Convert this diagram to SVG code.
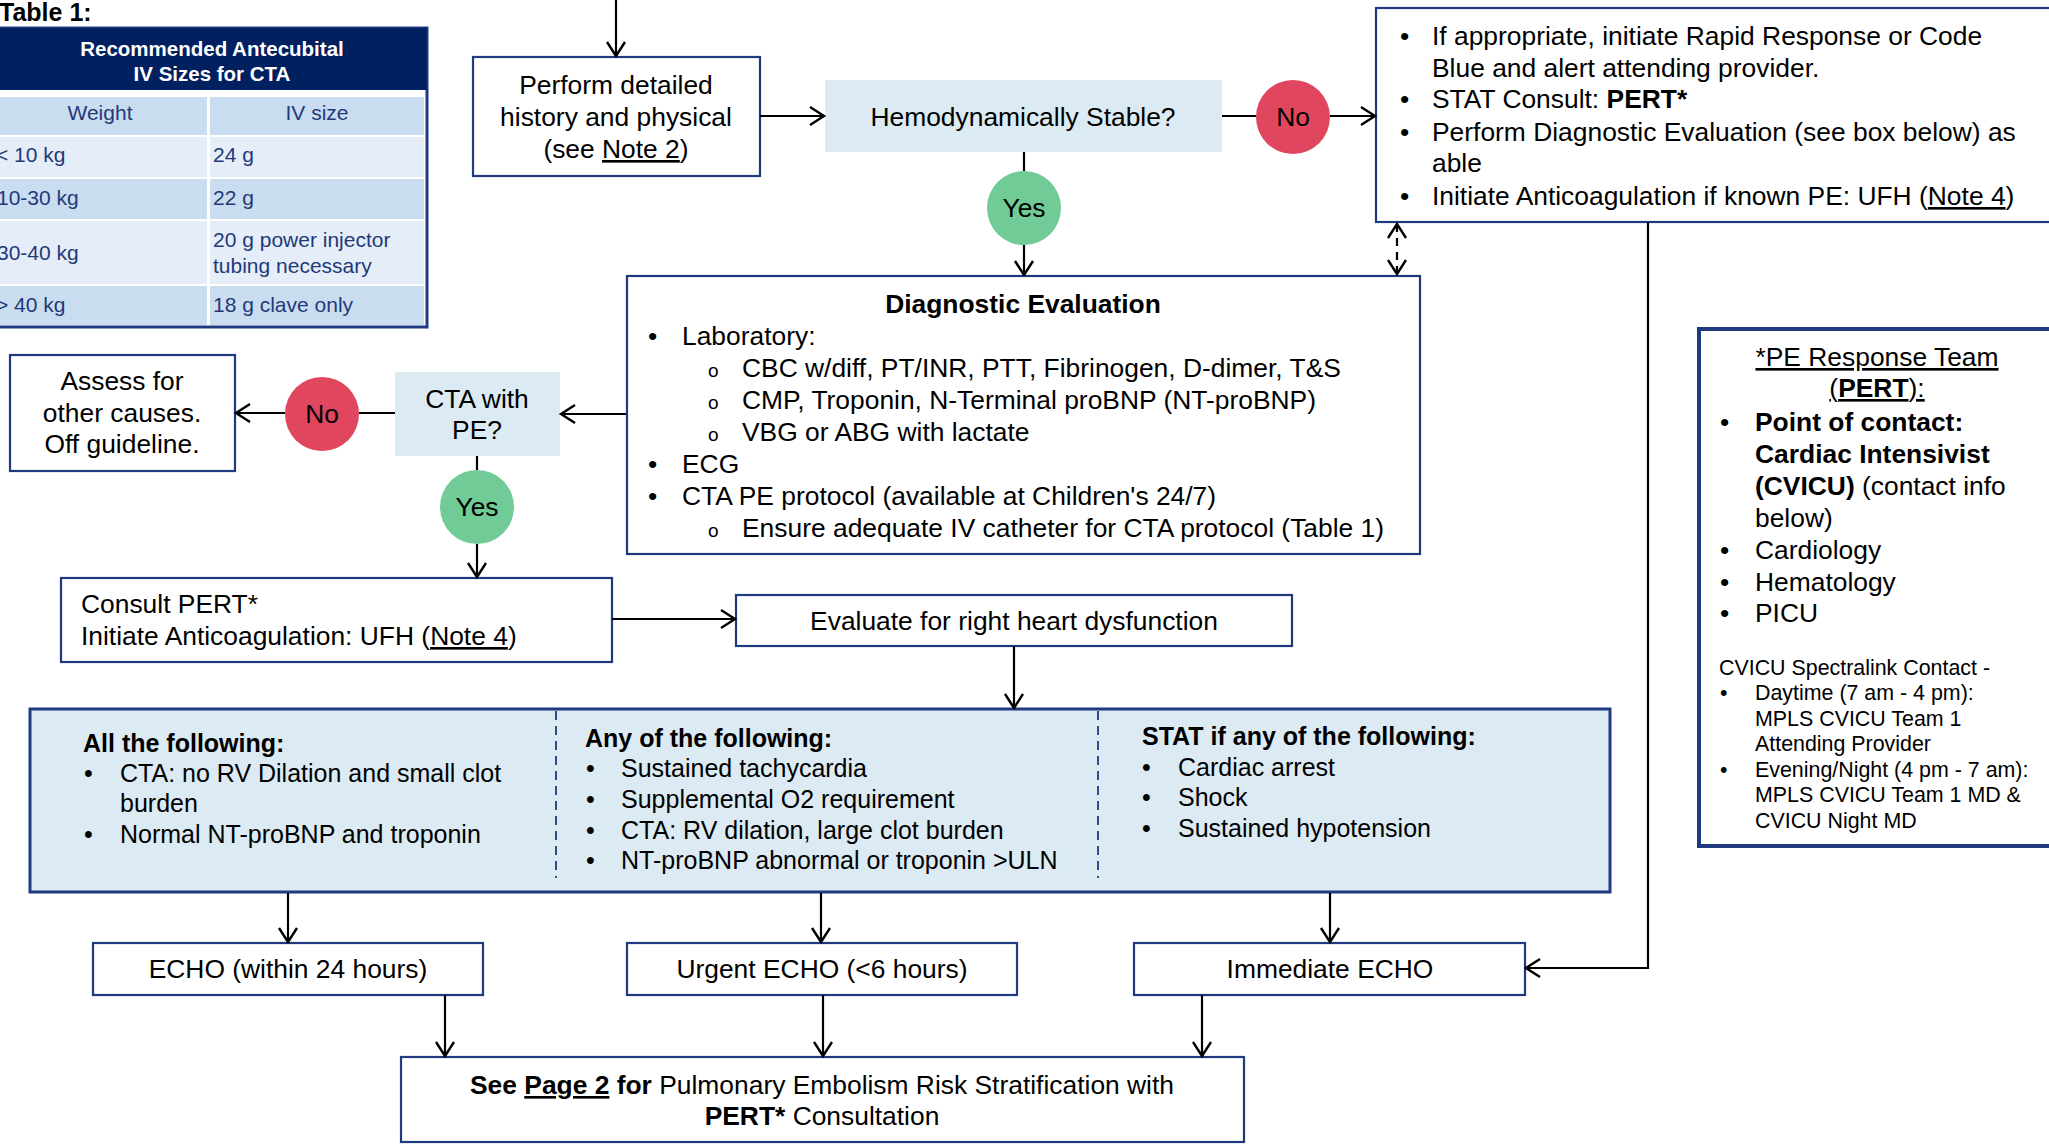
<svg xmlns="http://www.w3.org/2000/svg" width="2049" height="1144" viewBox="0 0 2049 1144">
<style>
text{font-family:"Liberation Sans",Arial,sans-serif;fill:#000}
.t{font-size:26.4px}
.tb{font-size:25px}
.sm{font-size:21.4px}
.b{font-weight:bold}
.c{text-anchor:middle}
.u{text-decoration:underline}
.box{fill:#fff;stroke:#1f3a80;stroke-width:2.2}
.q{fill:#dbeaf3;stroke:none}
.tc{font-size:21px;fill:#1f3a78}
.conn{fill:none;stroke:#000;stroke-width:2.2}
.sub{font-size:19px}
</style>
<defs>
<marker id="ah" markerUnits="userSpaceOnUse" markerWidth="20" markerHeight="22" refX="15" refY="10" orient="auto-start-reverse" viewBox="0 0 20 22">
<path d="M1,1 L15,10 L1,19" fill="none" stroke="#000" stroke-width="2.4"/>
</marker>
</defs>
<rect width="2049" height="1144" fill="#fff"/>

<g id="table1">
<text x="-1" y="21" class="b" style="font-size:25px">Table 1:</text>
<rect x="-5" y="28" width="432" height="299" fill="#fff" stroke="#1f3a80" stroke-width="3"/>
<rect x="-5" y="28" width="432" height="62" fill="#002060"/>
<text x="212" y="56" class="c b" style="font-size:20.5px;fill:#fff">Recommended Antecubital</text>
<text x="212" y="81" class="c b" style="font-size:20.5px;fill:#fff">IV Sizes for CTA</text>
<rect x="-5" y="97" width="212" height="38" fill="#cadcf0"/>
<rect x="210" y="97" width="214" height="38" fill="#cadcf0"/>
<rect x="-5" y="137" width="212" height="40" fill="#e5edf8"/>
<rect x="210" y="137" width="214" height="40" fill="#e5edf8"/>
<rect x="-5" y="179" width="212" height="40" fill="#cadcf0"/>
<rect x="210" y="179" width="214" height="40" fill="#cadcf0"/>
<rect x="-5" y="221" width="212" height="63" fill="#e5edf8"/>
<rect x="210" y="221" width="214" height="63" fill="#e5edf8"/>
<rect x="-5" y="286" width="212" height="39" fill="#cadcf0"/>
<rect x="210" y="286" width="214" height="39" fill="#cadcf0"/>
<text x="100" y="120" class="tc c">Weight</text>
<text x="317" y="120" class="tc c">IV size</text>
<text x="-4" y="162" class="tc">&lt; 10 kg</text>
<text x="213" y="162" class="tc">24 g</text>
<text x="-3" y="205" class="tc">10-30 kg</text>
<text x="213" y="205" class="tc">22 g</text>
<text x="-3" y="260" class="tc">30-40 kg</text>
<text x="213" y="247" class="tc">20 g power injector</text>
<text x="213" y="273" class="tc">tubing necessary</text>
<text x="-4" y="312" class="tc">&gt; 40 kg</text>
<text x="213" y="312" class="tc">18 g clave only</text>
</g>

<g id="perform">
<rect class="box" x="473" y="57" width="287" height="119"/>
<text x="616" y="94" class="t c">Perform detailed</text>
<text x="616" y="126" class="t c">history and physical</text>
<text x="616" y="158" class="t c">(see <tspan class="u">Note 2</tspan>)</text>
</g>

<g id="hemo">
<rect class="q" x="825" y="80" width="397" height="72"/>
<text x="1023" y="126" class="t c">Hemodynamically Stable?</text>
</g>

<g id="no1">
<circle cx="1293" cy="117" r="37" fill="#e0475f"/>
<text x="1293" y="126" class="t c">No</text>
</g>

<g id="yes1">
<circle cx="1024" cy="208" r="37" fill="#70cb96"/>
<text x="1024" y="217" class="t c">Yes</text>
</g>

<g id="unstable">
<rect class="box" x="1376" y="8" width="690" height="214"/>
<text x="1400" y="45" class="t">•</text><text x="1432" y="45" class="t">If appropriate, initiate Rapid Response or Code</text>
<text x="1432" y="77" class="t">Blue and alert attending provider.</text>
<text x="1400" y="108" class="t">•</text><text x="1432" y="108" class="t">STAT Consult: <tspan class="b">PERT*</tspan></text>
<text x="1400" y="141" class="t">•</text><text x="1432" y="141" class="t">Perform Diagnostic Evaluation (see box below) as</text>
<text x="1432" y="172" class="t">able</text>
<text x="1400" y="205" class="t">•</text><text x="1432" y="205" class="t">Initiate Anticoagulation if known PE: UFH (<tspan class="u">Note 4</tspan>)</text>
</g>

<g id="diag">
<rect class="box" x="627" y="276" width="793" height="278"/>
<text x="1023" y="313" class="t c b">Diagnostic Evaluation</text>
<text x="648" y="345" class="t">•</text><text x="682" y="345" class="t">Laboratory:</text>
<text x="708" y="377" class="sub">o</text><text x="742" y="377" class="t">CBC w/diff, PT/INR, PTT, Fibrinogen, D-dimer, T&amp;S</text>
<text x="708" y="409" class="sub">o</text><text x="742" y="409" class="t">CMP, Troponin, N-Terminal proBNP (NT-proBNP)</text>
<text x="708" y="441" class="sub">o</text><text x="742" y="441" class="t">VBG or ABG with lactate</text>
<text x="648" y="473" class="t">•</text><text x="682" y="473" class="t">ECG</text>
<text x="648" y="505" class="t">•</text><text x="682" y="505" class="t">CTA PE protocol (available at Children's 24/7)</text>
<text x="708" y="537" class="sub">o</text><text x="742" y="537" class="t">Ensure adequate IV catheter for CTA protocol (Table 1)</text>
</g>

<g id="cta">
<rect class="q" x="395" y="372" width="165" height="84"/>
<text x="477" y="408" class="t c">CTA with</text>
<text x="477" y="439" class="t c">PE?</text>
</g>

<g id="no2">
<circle cx="322" cy="414" r="37" fill="#e0475f"/>
<text x="322" y="423" class="t c">No</text>
</g>

<g id="assess">
<rect class="box" x="10" y="355" width="225" height="116"/>
<text x="122" y="390" class="t c">Assess for</text>
<text x="122" y="422" class="t c">other causes.</text>
<text x="122" y="453" class="t c">Off guideline.</text>
</g>

<g id="yes2">
<circle cx="477" cy="507" r="37" fill="#70cb96"/>
<text x="477" y="516" class="t c">Yes</text>
</g>

<g id="consult">
<rect class="box" x="61" y="578" width="551" height="84"/>
<text x="81" y="613" class="t">Consult PERT*</text>
<text x="81" y="645" class="t">Initiate Anticoagulation: UFH (<tspan class="u">Note 4</tspan>)</text>
</g>

<g id="evaluate">
<rect class="box" x="736" y="595" width="556" height="51"/>
<text x="1014" y="630" class="t c">Evaluate for right heart dysfunction</text>
</g>

<g id="criteria">
<rect x="30" y="709" width="1580" height="183" fill="#dbeaf3" stroke="#1f3a80" stroke-width="3"/>
<line x1="556" y1="711" x2="556" y2="878" stroke="#1f3a80" stroke-width="1.8" stroke-dasharray="9,6"/>
<line x1="1098" y1="711" x2="1098" y2="878" stroke="#1f3a80" stroke-width="1.8" stroke-dasharray="9,6"/>
<text x="83" y="752" class="tb b">All the following:</text>
<text x="84" y="782" class="tb">•</text><text x="120" y="782" class="tb">CTA: no RV Dilation and small clot</text>
<text x="120" y="812" class="tb">burden</text>
<text x="84" y="843" class="tb">•</text><text x="120" y="843" class="tb">Normal NT-proBNP and troponin</text>
<text x="585" y="747" class="tb b">Any of the following:</text>
<text x="586" y="777" class="tb">•</text><text x="621" y="777" class="tb">Sustained tachycardia</text>
<text x="586" y="808" class="tb">•</text><text x="621" y="808" class="tb">Supplemental O2 requirement</text>
<text x="586" y="839" class="tb">•</text><text x="621" y="839" class="tb">CTA: RV dilation, large clot burden</text>
<text x="586" y="869" class="tb">•</text><text x="621" y="869" class="tb">NT-proBNP abnormal or troponin &gt;ULN</text>
<text x="1142" y="745" class="tb b">STAT if any of the following:</text>
<text x="1142" y="776" class="tb">•</text><text x="1178" y="776" class="tb">Cardiac arrest</text>
<text x="1142" y="806" class="tb">•</text><text x="1178" y="806" class="tb">Shock</text>
<text x="1142" y="837" class="tb">•</text><text x="1178" y="837" class="tb">Sustained hypotension</text>
</g>

<g id="echo24">
<rect class="box" x="93" y="943" width="390" height="52"/>
<text x="288" y="978" class="t c">ECHO (within 24 hours)</text>
</g>

<g id="echo6">
<rect class="box" x="627" y="943" width="390" height="52"/>
<text x="822" y="978" class="t c">Urgent ECHO (&lt;6 hours)</text>
</g>

<g id="echoNow">
<rect class="box" x="1134" y="943" width="391" height="52"/>
<text x="1330" y="978" class="t c">Immediate ECHO</text>
</g>

<g id="page2">
<rect class="box" x="401" y="1057" width="843" height="85"/>
<text x="822" y="1094" class="t c"><tspan class="b">See </tspan><tspan class="b u">Page 2</tspan><tspan class="b"> for</tspan> Pulmonary Embolism Risk Stratification with</text>
<text x="822" y="1125" class="t c"><tspan class="b">PERT*</tspan> Consultation</text>
</g>

<g id="pert">
<rect x="1699" y="329" width="370" height="517" fill="#fff" stroke="#1f3a80" stroke-width="4"/>
<text x="1877" y="366" class="t c u">*PE Response Team</text>
<text x="1877" y="397" class="t c u">(<tspan class="b">PERT</tspan>):</text>
<text x="1720" y="431" class="t">•</text><text x="1755" y="431" class="t b">Point of contact:</text>
<text x="1755" y="463" class="t b">Cardiac Intensivist</text>
<text x="1755" y="495" class="t"><tspan class="b">(CVICU)</tspan> (contact info</text>
<text x="1755" y="527" class="t">below)</text>
<text x="1720" y="559" class="t">•</text><text x="1755" y="559" class="t">Cardiology</text>
<text x="1720" y="591" class="t">•</text><text x="1755" y="591" class="t">Hematology</text>
<text x="1720" y="622" class="t">•</text><text x="1755" y="622" class="t">PICU</text>
<text x="1719" y="675" class="sm">CVICU Spectralink Contact -</text>
<text x="1720" y="700" class="sm">•</text><text x="1755" y="700" class="sm">Daytime (7 am - 4 pm):</text>
<text x="1755" y="726" class="sm">MPLS CVICU Team 1</text>
<text x="1755" y="751" class="sm">Attending Provider</text>
<text x="1720" y="777" class="sm">•</text><text x="1755" y="777" class="sm">Evening/Night (4 pm - 7 am):</text>
<text x="1755" y="802" class="sm">MPLS CVICU Team 1 MD &amp;</text>
<text x="1755" y="828" class="sm">CVICU Night MD</text>
</g>

<g id="connectors" class="conn">
<path class="conn" d="M616,0 V56" marker-end="url(#ah)"/>
<path class="conn" d="M760,116 H824" marker-end="url(#ah)"/>
<path class="conn" d="M1222,116 H1256"/>
<path class="conn" d="M1330,116 H1375" marker-end="url(#ah)"/>
<path class="conn" d="M1024,152 V171"/>
<path class="conn" d="M1024,245 V275" marker-end="url(#ah)"/>
<path class="conn" d="M1397,224 V274" stroke-dasharray="8,6" marker-start="url(#ah)" marker-end="url(#ah)"/>
<path class="conn" d="M1648,222 V968 H1526" marker-end="url(#ah)"/>
<path class="conn" d="M626,414 H561" marker-end="url(#ah)"/>
<path class="conn" d="M395,413 H359"/>
<path class="conn" d="M285,413 H236" marker-end="url(#ah)"/>
<path class="conn" d="M477,456 V470"/>
<path class="conn" d="M477,544 V577" marker-end="url(#ah)"/>
<path class="conn" d="M612,619 H735" marker-end="url(#ah)"/>
<path class="conn" d="M1014,646 V708" marker-end="url(#ah)"/>
<path class="conn" d="M288,893 V942" marker-end="url(#ah)"/>
<path class="conn" d="M821,893 V942" marker-end="url(#ah)"/>
<path class="conn" d="M1330,893 V942" marker-end="url(#ah)"/>
<path class="conn" d="M445,995 V1056" marker-end="url(#ah)"/>
<path class="conn" d="M823,995 V1056" marker-end="url(#ah)"/>
<path class="conn" d="M1202,995 V1056" marker-end="url(#ah)"/>
</g>
</svg>
